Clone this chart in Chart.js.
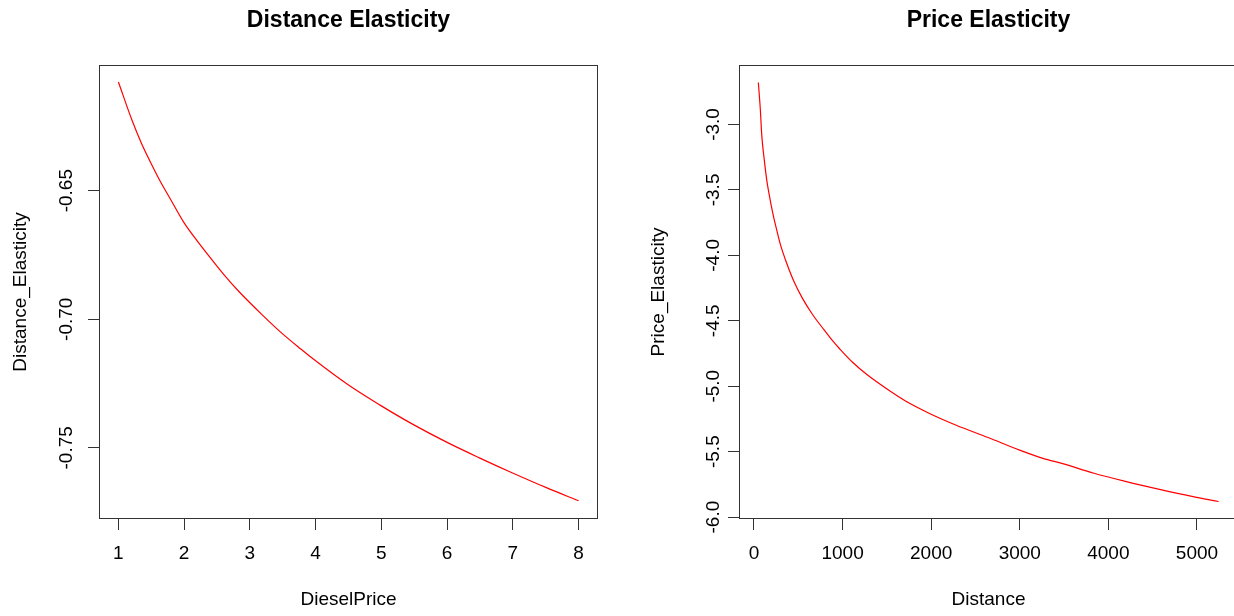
<!DOCTYPE html>
<html lang="en">
<head>
<meta charset="UTF-8">
<title>Distance and Price Elasticity</title>
<script src="https://cdn.jsdelivr.net/npm/chart.js"></script>
<style>
    html, body {
        margin: 0;
        padding: 0;
        background: #ffffff;
        width: 1234px;
        height: 616px;
        overflow: hidden;
    }
    #distanceChart { position: absolute; left: 0; top: 0; }
    /* right plot frame runs just past the window edge, as in the picture */
    #priceChart { position: absolute; left: 617px; top: 0; }
</style>
</head>
<body>
<canvas id="distanceChart" width="617" height="616"></canvas>
<canvas id="priceChart" width="640" height="616"></canvas>

<script>
    // Left panel: Distance elasticity against diesel price
    const dieselPrice = [1.0, 1.21, 1.35, 1.49, 1.64, 1.79, 2.0, 2.21, 2.43, 2.64, 2.84, 3.18,
                         3.45, 3.78, 3.96, 4.5, 4.98, 5.46, 6.0, 6.49, 6.97, 7.51, 8.0];
    const distanceElasticity = [-0.6077, -0.6228, -0.6315, -0.6390, -0.6465, -0.6532, -0.6625,
                                -0.6699, -0.6771, -0.6837, -0.6894, -0.6981, -0.7046, -0.7117,
                                -0.7154, -0.7256, -0.7334, -0.7406, -0.7479, -0.7539, -0.7595,
                                -0.7655, -0.7706];
    const dieselTicks = [1, 2, 3, 4, 5, 6, 7, 8];
    const distElasTicks = [-0.65, -0.70, -0.75];
    const distElasLabels = ['-0.65', '-0.70', '-0.75'];

    // Right panel: Price elasticity against distance
    const distance = [49, 71, 88, 115, 146, 168, 212, 256, 300, 367, 455, 544, 655, 787,
                      898, 964, 1119, 1274, 1539, 1715, 1981, 2290, 2643, 2998, 3263, 3484,
                      3838, 4192, 4589, 4944, 5244];
    const priceElasticity = [-2.679, -2.880, -3.085, -3.265, -3.435, -3.522, -3.677, -3.805,
                             -3.922, -4.056, -4.206, -4.325, -4.446, -4.566, -4.662,
                             -4.712, -4.821, -4.911, -5.039, -5.115, -5.208, -5.300, -5.392,
                             -5.488, -5.551, -5.592, -5.665, -5.727, -5.790, -5.842, -5.881];
    const distanceTicks = [0, 1000, 2000, 3000, 4000, 5000];
    const priceElasTicks = [-3.0, -3.5, -4.0, -4.5, -5.0, -5.5, -6.0];
    const priceElasLabels = ['-3.0', '-3.5', '-4.0', '-4.5', '-5.0', '-5.5', '-6.0'];

    const FONT = "'Liberation Sans', Arial, sans-serif";
    Chart.defaults.font.family = FONT;
    Chart.defaults.color = '#000000';

    // R style frame around the plot region
    const plotBox = {
        id: 'plotBox',
        afterDatasetsDraw(chart) {
            const { ctx, chartArea: a } = chart;
            ctx.save();
            ctx.strokeStyle = '#333333';
            ctx.lineWidth = 1;
            ctx.strokeRect(Math.round(a.left) - 0.5, Math.round(a.top) - 0.5,
                           Math.round(a.right - a.left) + 1, Math.round(a.bottom - a.top) + 1);
            ctx.restore();
        }
    };

    function makePanel(canvasId, opts) {
        const points = opts.xs.map((x, i) => ({ x: x, y: opts.ys[i] }));
        return new Chart(document.getElementById(canvasId), {
            type: 'line',
            data: {
                datasets: [{
                    data: points,
                    borderColor: '#ff0000',
                    borderWidth: 1.2,
                    pointRadius: 0,
                    cubicInterpolationMode: 'monotone',
                    fill: false
                }]
            },
            options: {
                responsive: false,
                animation: false,
                layout: { padding: { left: 0, right: 20, top: 0, bottom: 0 } },
                plugins: {
                    legend: { display: false },
                    tooltip: { enabled: false },
                    title: {
                        display: true,
                        text: opts.title,
                        fullSize: false,
                        color: '#000000',
                        font: { size: 23, weight: 'bold', lineHeight: 1.2 },
                        padding: { top: 6.5, bottom: 31.9 }
                    }
                },
                scales: {
                    x: {
                        type: 'linear',
                        min: opts.xMin,
                        max: opts.xMax,
                        afterFit: s => { s.height = 98; },
                        afterBuildTicks: s => { s.ticks = opts.xTicks.map(v => ({ value: v })); },
                        grid: { drawOnChartArea: false, drawTicks: true, tickLength: 12, color: '#333333' },
                        border: { display: false },
                        ticks: {
                            autoSkip: false,
                            maxRotation: 0,
                            padding: 12.5,
                            font: { size: 19 },
                            callback: v => String(v)
                        },
                        title: {
                            display: true,
                            text: opts.xTitle,
                            font: { size: 19 },
                            padding: { top: 0, bottom: 4.5 }
                        }
                    },
                    y: {
                        type: 'linear',
                        min: opts.yMin,
                        max: opts.yMax,
                        afterFit: s => { s.width = opts.yAxisWidth; },
                        afterBuildTicks: s => { s.ticks = opts.yTicks.map(v => ({ value: v })); },
                        grid: { drawOnChartArea: false, drawTicks: true, tickLength: 12, color: '#333333' },
                        border: { display: false },
                        ticks: {
                            autoSkip: false,
                            minRotation: 90,
                            maxRotation: 90,
                            crossAlign: 'center',
                            padding: opts.yTickPad,
                            font: { size: 19 },
                            callback: (v, i) => opts.yLabels[i]
                        },
                        title: {
                            display: true,
                            text: opts.yTitle,
                            font: { size: 19 },
                            padding: { top: opts.yTitlePad, bottom: 0 }
                        }
                    }
                }
            },
            plugins: [plotBox]
        });
    }

    makePanel('distanceChart', {
        title: 'Distance Elasticity',
        xs: dieselPrice, ys: distanceElasticity,
        xMin: 0.72, xMax: 8.28, xTicks: dieselTicks, xTitle: 'DieselPrice',
        yMin: -0.7773, yMax: -0.6015, yTicks: distElasTicks, yLabels: distElasLabels,
        yTitle: 'Distance_Elasticity', yAxisWidth: 100, yTickPad: -0.5, yTitlePad: 9.1
    });

    makePanel('priceChart', {
        title: 'Price Elasticity',
        xs: distance, ys: priceElasticity,
        xMin: -158, xMax: 5452, xTicks: distanceTicks, xTitle: 'Distance',
        yMin: -6.007, yMax: -2.553, yTicks: priceElasTicks, yLabels: priceElasLabels,
        yTitle: 'Price_Elasticity', yAxisWidth: 123, yTickPad: -1.9, yTitlePad: 30.2
    });
</script>
</body>
</html>
